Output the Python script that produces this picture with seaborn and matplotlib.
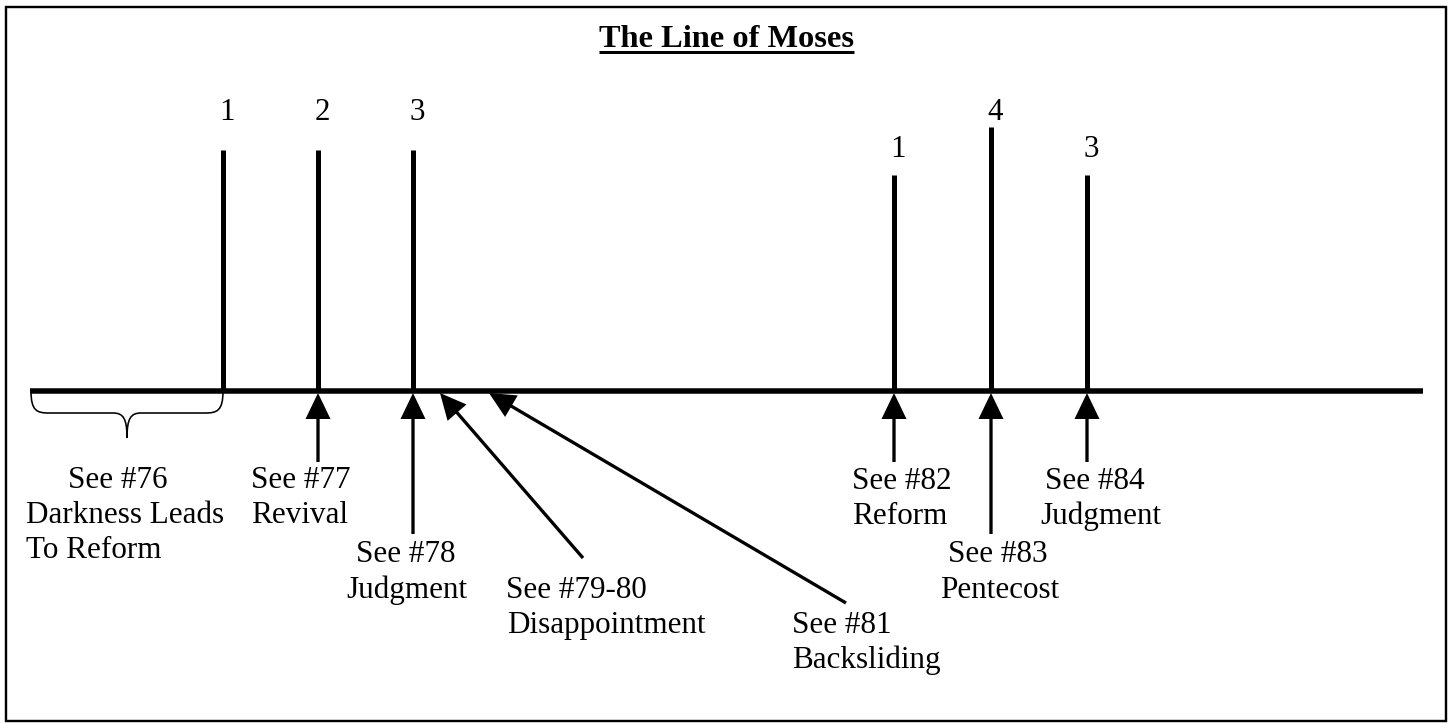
import matplotlib
matplotlib.use("Agg")
import matplotlib.pyplot as plt
from matplotlib.path import Path
from matplotlib.patches import PathPatch, Rectangle
import seaborn as sns

sns.set_theme(style="white")
plt.rcParams['font.family'] = ['Liberation Serif', 'DejaVu Serif']

# ---------------- data ----------------
title = "The Line of Moses"
# event stems on the time line (x, top, label)
stem_x = [223, 318, 413, 894, 991, 1087]
stem_top = [150, 150, 150, 175, 127, 175]
stem_num = ["1", "2", "3", "1", "4", "3"]
num_baseline = [120, 120, 120, 157, 120, 157]

# vertical arrows pointing up at the time line
varrow_x = [318, 413, 894, 991, 1087]
varrow_tail = [462, 534, 462, 534, 462]

# diagonal arrows (tail -> tip)
darrow_tail = [(583, 558), (846, 603)]
darrow_tip = [(440, 393), (489, 393)]

# annotation labels: (text, x_left, baseline)
label_text = ["See #76", "Darkness Leads", "To Reform",
              "See #77", "Revival",
              "See #78", "Judgment",
              "See #79-80", "Disappointment",
              "See #81", "Backsliding",
              "See #82", "Reform",
              "See #83", "Pentecost",
              "See #84", "Judgment"]
label_x = [68, 26, 26,
           251, 251,
           356, 346,
           506, 507,
           792, 792,
           852, 852,
           948, 940,
           1045, 1040]
label_y = [488, 523, 558,
           488, 523,
           562, 598,
           598, 633,
           633, 668,
           489, 524,
           562, 598,
           489, 524]

baseline_y = 391
baseline_x = [30, 1423]
brace_x = [31, 127, 223]
# --------------------------------------

W, H = 1450, 723
fig = plt.figure(figsize=(W / 100, H / 100), dpi=100)
ax = fig.add_axes([0, 0, 1, 1])
ax.set_xlim(0, W)
ax.set_ylim(H, 0)
ax.axis("off")

px = 0.72  # points per pixel at dpi 100

# border
ax.add_patch(Rectangle((6, 7), 1440, 714, fill=False, ec="black", lw=2.4 * px))

# title with underline
t = ax.text(727, 47, title, ha="center", va="baseline", fontsize=23.3,
            fontweight="bold", color="black")
fig.canvas.draw()
bb = t.get_window_extent().transformed(ax.transData.inverted())
ax.plot([min(bb.x0, bb.x1), max(bb.x0, bb.x1)], [52, 52], color="black",
        lw=3 * px, solid_capstyle="butt")

# main time line
sns.lineplot(x=baseline_x, y=[baseline_y, baseline_y], ax=ax, color="black",
             lw=5.5 * px, legend=False)
ax.lines[-1].set_solid_capstyle("butt")

# stems
ax.vlines(stem_x, stem_top, baseline_y, color="black", lw=5 * px)
for x, n, yb in zip(stem_x, stem_num, num_baseline):
    ax.text(x + 4, yb, n, ha="center", va="baseline", fontsize=22.2,
            color="black")

# vertical arrows
for x, yt in zip(varrow_x, varrow_tail):
    ax.arrow(x, yt, 0, baseline_y + 2 - yt, width=3.3, head_width=25,
             head_length=26, length_includes_head=True, color="black", lw=0)

# diagonal arrows
for (x0, y0), (x1, y1) in zip(darrow_tail, darrow_tip):
    ax.arrow(x0, y0, x1 - x0, y1 - y0, width=3.3, head_width=25,
             head_length=26, length_includes_head=True, color="black", lw=0)

# curly brace under the first section
l, m, r = brace_x
yb0, yh, ytip = baseline_y, 413, 438
verts = [(l, yb0), (l, yh - 2), (l + 6, yh), (l + 18, yh),
         (m - 14, yh),
         (m - 4, yh), (m, yh + 5), (m, ytip),
         (m, yh + 5), (m + 4, yh), (m + 14, yh),
         (r - 18, yh),
         (r - 6, yh), (r, yh - 2), (r, yb0)]
codes = [Path.MOVETO, Path.CURVE4, Path.CURVE4, Path.CURVE4,
         Path.LINETO,
         Path.CURVE4, Path.CURVE4, Path.CURVE4,
         Path.CURVE4, Path.CURVE4, Path.CURVE4,
         Path.LINETO,
         Path.CURVE4, Path.CURVE4, Path.CURVE4]
ax.add_patch(PathPatch(Path(verts, codes), fill=False, ec="black", lw=1.6 * px))

# labels
for s, x, y in zip(label_text, label_x, label_y):
    ax.text(x, y, s, ha="left", va="baseline", fontsize=22.4, color="black")

fig.savefig("out.png", dpi=100, facecolor="white")
